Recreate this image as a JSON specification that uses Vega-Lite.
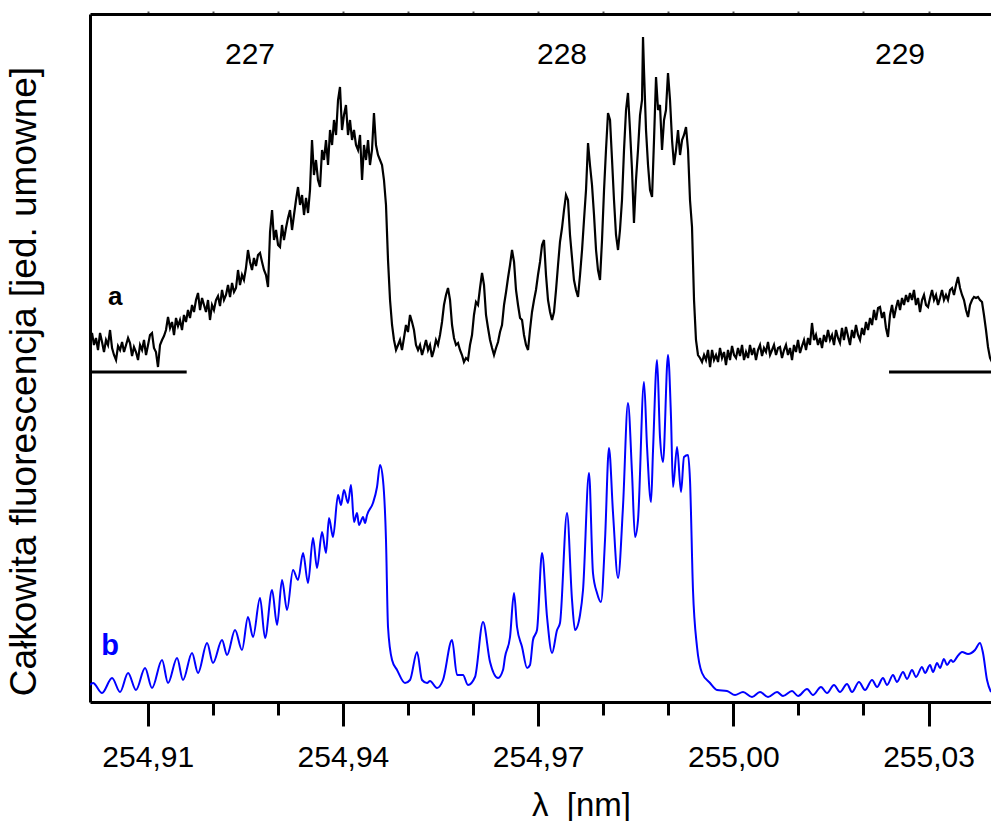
{
"$schema":"https://vega.github.io/schema/vega-lite/v6.json",
"width":901,"height":688,
"autosize":{"type":"none"},
"padding":{"left":90,"top":14,"right":0,"bottom":119},
"background":"white",
"config":{"view":{"stroke":null},"font":"Liberation Sans","text":{"font":"Liberation Sans"}},
"datasets":{
"a":[{"x":254.90113,"y":362},{"x":254.90144,"y":369},{"x":254.90174,"y":357},{"x":254.90205,"y":364},{"x":254.90236,"y":352},{"x":254.90267,"y":369},{"x":254.90298,"y":360},{"x":254.90328,"y":350},{"x":254.90359,"y":362},{"x":254.9039,"y":357},{"x":254.90421,"y":372},{"x":254.90452,"y":354},{"x":254.90482,"y":347},{"x":254.90513,"y":342},{"x":254.90544,"y":356},{"x":254.90575,"y":352},{"x":254.90606,"y":360},{"x":254.90636,"y":350},{"x":254.90667,"y":357},{"x":254.90698,"y":364},{"x":254.90728,"y":359},{"x":254.90759,"y":346},{"x":254.90789,"y":355},{"x":254.9082,"y":350},{"x":254.90851,"y":342},{"x":254.90882,"y":357},{"x":254.90913,"y":352},{"x":254.90943,"y":362},{"x":254.90974,"y":347},{"x":254.91005,"y":357},{"x":254.91035,"y":367},{"x":254.91066,"y":369},{"x":254.91096,"y":354},{"x":254.91127,"y":350},{"x":254.91158,"y":335},{"x":254.91189,"y":357},{"x":254.9122,"y":362},{"x":254.9125,"y":366},{"x":254.91281,"y":372},{"x":254.91312,"y":385},{"x":254.91343,"y":374},{"x":254.91374,"y":380},{"x":254.91404,"y":367},{"x":254.91435,"y":384},{"x":254.91466,"y":376},{"x":254.91496,"y":382},{"x":254.91527,"y":372},{"x":254.91557,"y":387},{"x":254.91588,"y":380},{"x":254.91619,"y":392},{"x":254.9165,"y":384},{"x":254.91681,"y":397},{"x":254.91711,"y":390},{"x":254.91742,"y":402},{"x":254.91773,"y":409},{"x":254.91804,"y":392},{"x":254.91835,"y":404},{"x":254.91865,"y":397},{"x":254.91896,"y":390},{"x":254.91927,"y":402},{"x":254.91957,"y":382},{"x":254.91988,"y":397},{"x":254.92018,"y":392},{"x":254.92049,"y":402},{"x":254.9208,"y":406},{"x":254.92111,"y":396},{"x":254.92142,"y":412},{"x":254.92172,"y":402},{"x":254.92203,"y":407},{"x":254.92234,"y":417},{"x":254.92265,"y":405},{"x":254.92296,"y":419},{"x":254.92326,"y":410},{"x":254.92357,"y":414},{"x":254.92388,"y":432},{"x":254.92418,"y":417},{"x":254.92449,"y":427},{"x":254.92479,"y":422},{"x":254.9251,"y":434},{"x":254.92541,"y":452},{"x":254.92572,"y":440},{"x":254.92603,"y":432},{"x":254.92633,"y":444},{"x":254.92664,"y":436},{"x":254.92695,"y":447},{"x":254.92726,"y":449},{"x":254.92757,"y":440},{"x":254.92787,"y":432},{"x":254.92818,"y":427},{"x":254.92849,"y":415},{"x":254.9288,"y":470},{"x":254.92911,"y":492},{"x":254.92941,"y":462},{"x":254.92972,"y":472},{"x":254.93003,"y":457},{"x":254.93033,"y":455},{"x":254.93064,"y":477},{"x":254.93094,"y":462},{"x":254.93125,"y":474},{"x":254.93156,"y":484},{"x":254.93187,"y":492},{"x":254.93218,"y":472},{"x":254.93248,"y":487},{"x":254.93279,"y":502},{"x":254.9331,"y":515},{"x":254.93341,"y":497},{"x":254.93372,"y":507},{"x":254.93402,"y":487},{"x":254.93433,"y":504},{"x":254.93464,"y":489},{"x":254.93494,"y":512},{"x":254.93525,"y":562},{"x":254.93555,"y":527},{"x":254.93586,"y":542},{"x":254.93617,"y":522},{"x":254.93648,"y":515},{"x":254.93679,"y":552},{"x":254.93709,"y":542},{"x":254.9374,"y":562},{"x":254.93771,"y":537},{"x":254.93802,"y":572},{"x":254.93833,"y":557},{"x":254.93863,"y":582},{"x":254.93894,"y":567},{"x":254.93925,"y":602},{"x":254.93955,"y":615},{"x":254.93986,"y":572},{"x":254.94016,"y":587},{"x":254.94047,"y":597},{"x":254.94078,"y":567},{"x":254.94109,"y":582},{"x":254.9414,"y":562},{"x":254.9417,"y":572},{"x":254.94201,"y":557},{"x":254.94232,"y":552},{"x":254.94263,"y":567},{"x":254.94294,"y":522},{"x":254.94324,"y":557},{"x":254.94355,"y":542},{"x":254.94386,"y":562},{"x":254.94416,"y":537},{"x":254.94447,"y":552},{"x":254.94477,"y":589},{"x":254.94508,"y":557},{"x":254.94539,"y":547},{"x":254.9457,"y":542},{"x":254.94601,"y":537},{"x":254.94631,"y":522},{"x":254.94662,"y":497},{"x":254.94693,"y":442},{"x":254.94724,"y":402},{"x":254.94755,"y":377},{"x":254.94785,"y":362},{"x":254.94816,"y":352},{"x":254.94847,"y":357},{"x":254.94877,"y":362},{"x":254.94908,"y":352},{"x":254.94938,"y":364},{"x":254.94969,"y":377},{"x":254.95,"y":370},{"x":254.95031,"y":387},{"x":254.95062,"y":380},{"x":254.95092,"y":372},{"x":254.95123,"y":357},{"x":254.95154,"y":352},{"x":254.95185,"y":357},{"x":254.95216,"y":347},{"x":254.95246,"y":354},{"x":254.95277,"y":362},{"x":254.95308,"y":352},{"x":254.95338,"y":357},{"x":254.95369,"y":345},{"x":254.95399,"y":352},{"x":254.9543,"y":362},{"x":254.95461,"y":357},{"x":254.95492,"y":367},{"x":254.95523,"y":380},{"x":254.95553,"y":397},{"x":254.95584,"y":407},{"x":254.95615,"y":414},{"x":254.95646,"y":402},{"x":254.95677,"y":377},{"x":254.95707,"y":364},{"x":254.95738,"y":357},{"x":254.95769,"y":359},{"x":254.95799,"y":352},{"x":254.9583,"y":347},{"x":254.9586,"y":340},{"x":254.95891,"y":344},{"x":254.95922,"y":342},{"x":254.95953,"y":357},{"x":254.95984,"y":367},{"x":254.96014,"y":387},{"x":254.96045,"y":400},{"x":254.96076,"y":397},{"x":254.96107,"y":414},{"x":254.96138,"y":429},{"x":254.96168,"y":417},{"x":254.96199,"y":387},{"x":254.9623,"y":374},{"x":254.96261,"y":362},{"x":254.96292,"y":354},{"x":254.96322,"y":347},{"x":254.96353,"y":354},{"x":254.96384,"y":360},{"x":254.96414,"y":370},{"x":254.96445,"y":377},{"x":254.96476,"y":397},{"x":254.96507,"y":410},{"x":254.96537,"y":424},{"x":254.96568,"y":437},{"x":254.96599,"y":452},{"x":254.9663,"y":440},{"x":254.9666,"y":412},{"x":254.96691,"y":397},{"x":254.96722,"y":384},{"x":254.96753,"y":382},{"x":254.96783,"y":367},{"x":254.96814,"y":357},{"x":254.96845,"y":352},{"x":254.96875,"y":372},{"x":254.96906,"y":390},{"x":254.96937,"y":402},{"x":254.96967,"y":412},{"x":254.96998,"y":427},{"x":254.97029,"y":440},{"x":254.9706,"y":457},{"x":254.9709,"y":462},{"x":254.97121,"y":427},{"x":254.97152,"y":402},{"x":254.97183,"y":390},{"x":254.97214,"y":382},{"x":254.97244,"y":390},{"x":254.97275,"y":412},{"x":254.97306,"y":437},{"x":254.97336,"y":460},{"x":254.97367,"y":474},{"x":254.97398,"y":492},{"x":254.97428,"y":507},{"x":254.97459,"y":502},{"x":254.9749,"y":467},{"x":254.97521,"y":444},{"x":254.97551,"y":422},{"x":254.97582,"y":412},{"x":254.97613,"y":405},{"x":254.97644,"y":427},{"x":254.97675,"y":452},{"x":254.97705,"y":482},{"x":254.97736,"y":512},{"x":254.97767,"y":559},{"x":254.97797,"y":537},{"x":254.97828,"y":517},{"x":254.97859,"y":487},{"x":254.9789,"y":452},{"x":254.9792,"y":432},{"x":254.97951,"y":422},{"x":254.97982,"y":462},{"x":254.98013,"y":512},{"x":254.98043,"y":552},{"x":254.98074,"y":589},{"x":254.98105,"y":582},{"x":254.98136,"y":542},{"x":254.98166,"y":502},{"x":254.98197,"y":467},{"x":254.98228,"y":452},{"x":254.98258,"y":472},{"x":254.98289,"y":502},{"x":254.9832,"y":552},{"x":254.98351,"y":592},{"x":254.98381,"y":609},{"x":254.98412,"y":572},{"x":254.98443,"y":532},{"x":254.98473,"y":479},{"x":254.98504,"y":522},{"x":254.98535,"y":552},{"x":254.98566,"y":587},{"x":254.98597,"y":602},{"x":254.98612,"y":665},{"x":254.98627,"y":632},{"x":254.98658,"y":572},{"x":254.98689,"y":537},{"x":254.9872,"y":512},{"x":254.98751,"y":505},{"x":254.98781,"y":562},{"x":254.98812,"y":625},{"x":254.98843,"y":592},{"x":254.98873,"y":597},{"x":254.98904,"y":552},{"x":254.98935,"y":582},{"x":254.98965,"y":592},{"x":254.98996,"y":629},{"x":254.99027,"y":602},{"x":254.99058,"y":562},{"x":254.99088,"y":537},{"x":254.99119,"y":552},{"x":254.9915,"y":572},{"x":254.99181,"y":547},{"x":254.99212,"y":562},{"x":254.99242,"y":567},{"x":254.99273,"y":575},{"x":254.99304,"y":552},{"x":254.99334,"y":502},{"x":254.99365,"y":475},{"x":254.99396,"y":402},{"x":254.99426,"y":362},{"x":254.99457,"y":347},{"x":254.99488,"y":344},{"x":254.99519,"y":340},{"x":254.9955,"y":347},{"x":254.9958,"y":342},{"x":254.99611,"y":352},{"x":254.99642,"y":335},{"x":254.99673,"y":352},{"x":254.99703,"y":342},{"x":254.99734,"y":347},{"x":254.99765,"y":340},{"x":254.99795,"y":354},{"x":254.99826,"y":344},{"x":254.99857,"y":350},{"x":254.99887,"y":337},{"x":254.99918,"y":352},{"x":254.99949,"y":342},{"x":254.9998,"y":356},{"x":255.00011,"y":347},{"x":255.00041,"y":344},{"x":255.00072,"y":354},{"x":255.00103,"y":346},{"x":255.00134,"y":357},{"x":255.00164,"y":342},{"x":255.00195,"y":350},{"x":255.00226,"y":344},{"x":255.00256,"y":357},{"x":255.00287,"y":347},{"x":255.00318,"y":354},{"x":255.00348,"y":342},{"x":255.00379,"y":352},{"x":255.0041,"y":357},{"x":255.00441,"y":346},{"x":255.00471,"y":354},{"x":255.00502,"y":350},{"x":255.00533,"y":360},{"x":255.00564,"y":347},{"x":255.00595,"y":352},{"x":255.00625,"y":357},{"x":255.00656,"y":347},{"x":255.00687,"y":354},{"x":255.00717,"y":355},{"x":255.00748,"y":344},{"x":255.00779,"y":352},{"x":255.00809,"y":357},{"x":255.0084,"y":347},{"x":255.00871,"y":354},{"x":255.00902,"y":342},{"x":255.00932,"y":357},{"x":255.00963,"y":350},{"x":255.00994,"y":362},{"x":255.01025,"y":349},{"x":255.01056,"y":356},{"x":255.01086,"y":362},{"x":255.01117,"y":352},{"x":255.01148,"y":364},{"x":255.01178,"y":357},{"x":255.01209,"y":379},{"x":255.0124,"y":362},{"x":255.0127,"y":367},{"x":255.01301,"y":357},{"x":255.01332,"y":364},{"x":255.01363,"y":354},{"x":255.01393,"y":367},{"x":255.01424,"y":360},{"x":255.01455,"y":372},{"x":255.01486,"y":362},{"x":255.01517,"y":367},{"x":255.01547,"y":357},{"x":255.01578,"y":372},{"x":255.01609,"y":364},{"x":255.01639,"y":359},{"x":255.0167,"y":374},{"x":255.017,"y":362},{"x":255.01731,"y":375},{"x":255.01762,"y":366},{"x":255.01793,"y":357},{"x":255.01824,"y":372},{"x":255.01854,"y":364},{"x":255.01885,"y":377},{"x":255.01916,"y":367},{"x":255.01947,"y":362},{"x":255.01978,"y":374},{"x":255.02008,"y":367},{"x":255.02039,"y":380},{"x":255.0207,"y":372},{"x":255.02101,"y":384},{"x":255.02132,"y":377},{"x":255.02162,"y":392},{"x":255.02193,"y":382},{"x":255.02224,"y":394},{"x":255.02254,"y":395},{"x":255.02285,"y":384},{"x":255.02315,"y":390},{"x":255.02346,"y":374},{"x":255.02377,"y":365},{"x":255.02408,"y":387},{"x":255.02439,"y":397},{"x":255.02469,"y":384},{"x":255.025,"y":394},{"x":255.02531,"y":402},{"x":255.02562,"y":392},{"x":255.02593,"y":404},{"x":255.02623,"y":397},{"x":255.02654,"y":407},{"x":255.02685,"y":400},{"x":255.02715,"y":409},{"x":255.02746,"y":402},{"x":255.02776,"y":412},{"x":255.02807,"y":397},{"x":255.02838,"y":404},{"x":255.02869,"y":390},{"x":255.029,"y":402},{"x":255.0293,"y":407},{"x":255.02961,"y":397},{"x":255.02992,"y":395},{"x":255.03023,"y":404},{"x":255.03054,"y":412},{"x":255.03084,"y":402},{"x":255.03115,"y":407},{"x":255.03146,"y":397},{"x":255.03176,"y":404},{"x":255.03207,"y":412},{"x":255.03237,"y":402},{"x":255.03268,"y":407},{"x":255.03299,"y":402},{"x":255.0333,"y":412},{"x":255.03361,"y":414},{"x":255.03391,"y":407},{"x":255.03422,"y":417},{"x":255.03453,"y":425},{"x":255.03484,"y":414},{"x":255.03515,"y":407},{"x":255.03545,"y":402},{"x":255.03576,"y":392},{"x":255.03607,"y":385},{"x":255.03637,"y":397},{"x":255.03668,"y":402},{"x":255.03699,"y":405},{"x":255.0373,"y":404},{"x":255.0376,"y":405},{"x":255.03791,"y":402},{"x":255.03822,"y":400},{"x":255.03852,"y":387},{"x":255.03883,"y":372},{"x":255.03914,"y":355},{"x":255.03945,"y":344},{"x":255.03975,"y":340}],
"b":[{"x":254.90113,"y":17},{"x":254.90159,"y":19},{"x":254.90298,"y":9},{"x":254.90452,"y":24},{"x":254.90575,"y":10},{"x":254.90698,"y":29},{"x":254.9082,"y":12},{"x":254.90959,"y":34},{"x":254.91066,"y":14},{"x":254.9122,"y":42},{"x":254.91312,"y":19},{"x":254.91451,"y":44},{"x":254.91542,"y":22},{"x":254.91681,"y":49},{"x":254.91773,"y":29},{"x":254.91912,"y":59},{"x":254.92003,"y":39},{"x":254.92142,"y":62},{"x":254.92219,"y":47},{"x":254.92342,"y":72},{"x":254.92449,"y":52},{"x":254.92541,"y":85},{"x":254.92618,"y":65},{"x":254.92726,"y":104},{"x":254.92803,"y":64},{"x":254.92911,"y":112},{"x":254.92988,"y":77},{"x":254.93064,"y":122},{"x":254.93141,"y":92},{"x":254.93233,"y":132},{"x":254.9331,"y":122},{"x":254.93387,"y":149},{"x":254.93464,"y":119},{"x":254.9354,"y":164},{"x":254.93602,"y":134},{"x":254.93679,"y":170},{"x":254.9374,"y":149},{"x":254.93786,"y":184},{"x":254.93848,"y":165},{"x":254.93925,"y":207},{"x":254.9397,"y":197},{"x":254.94016,"y":212},{"x":254.94078,"y":199},{"x":254.94124,"y":217},{"x":254.9417,"y":180},{"x":254.94217,"y":189},{"x":254.94247,"y":177},{"x":254.94309,"y":185},{"x":254.9434,"y":179},{"x":254.94371,"y":187},{"x":254.94462,"y":199},{"x":254.94524,"y":215},{"x":254.9457,"y":237},{"x":254.94616,"y":222},{"x":254.94662,"y":162},{"x":254.94693,"y":75},{"x":254.94755,"y":42},{"x":254.94832,"y":32},{"x":254.94954,"y":19},{"x":254.95031,"y":22},{"x":254.95139,"y":50},{"x":254.95216,"y":22},{"x":254.95293,"y":19},{"x":254.95338,"y":21},{"x":254.95446,"y":14},{"x":254.95538,"y":22},{"x":254.95677,"y":62},{"x":254.95754,"y":27},{"x":254.95845,"y":27},{"x":254.95922,"y":17},{"x":254.9603,"y":25},{"x":254.96153,"y":80},{"x":254.96261,"y":40},{"x":254.96384,"y":24},{"x":254.9646,"y":32},{"x":254.96491,"y":45},{"x":254.96568,"y":65},{"x":254.96629,"y":109},{"x":254.96676,"y":75},{"x":254.96753,"y":55},{"x":254.9683,"y":34},{"x":254.96875,"y":37},{"x":254.96921,"y":62},{"x":254.96983,"y":72},{"x":254.9706,"y":149},{"x":254.97137,"y":85},{"x":254.97214,"y":49},{"x":254.97291,"y":72},{"x":254.97336,"y":79},{"x":254.97444,"y":189},{"x":254.97521,"y":102},{"x":254.97567,"y":72},{"x":254.97644,"y":87},{"x":254.9769,"y":112},{"x":254.97782,"y":229},{"x":254.97843,"y":129},{"x":254.97905,"y":109},{"x":254.97966,"y":100},{"x":254.98028,"y":162},{"x":254.98089,"y":254},{"x":254.98151,"y":189},{"x":254.98228,"y":124},{"x":254.98304,"y":195},{"x":254.98381,"y":299},{"x":254.98443,"y":229},{"x":254.98489,"y":165},{"x":254.98535,"y":182},{"x":254.98627,"y":320},{"x":254.98674,"y":255},{"x":254.98735,"y":200},{"x":254.98766,"y":252},{"x":254.98828,"y":342},{"x":254.98873,"y":265},{"x":254.98919,"y":240},{"x":254.98996,"y":347},{"x":254.99042,"y":285},{"x":254.99073,"y":215},{"x":254.99135,"y":255},{"x":254.99196,"y":210},{"x":254.99242,"y":245},{"x":254.99304,"y":247},{"x":254.99334,"y":222},{"x":254.9938,"y":112},{"x":254.99442,"y":55},{"x":254.99519,"y":29},{"x":254.99642,"y":19},{"x":254.9975,"y":12},{"x":254.99903,"y":11},{"x":255.00026,"y":7},{"x":255.00149,"y":10},{"x":255.00287,"y":5},{"x":255.0041,"y":10},{"x":255.00533,"y":5},{"x":255.00672,"y":10},{"x":255.00763,"y":6},{"x":255.00902,"y":11},{"x":255.00994,"y":6},{"x":255.01133,"y":13},{"x":255.01224,"y":7},{"x":255.01347,"y":15},{"x":255.0144,"y":9},{"x":255.01547,"y":17},{"x":255.01639,"y":10},{"x":255.01747,"y":18},{"x":255.01824,"y":10},{"x":255.01931,"y":20},{"x":255.02024,"y":12},{"x":255.02132,"y":22},{"x":255.02209,"y":15},{"x":255.023,"y":24},{"x":255.02362,"y":17},{"x":255.02454,"y":27},{"x":255.02515,"y":20},{"x":255.02608,"y":30},{"x":255.0267,"y":23},{"x":255.02746,"y":32},{"x":255.02807,"y":25},{"x":255.029,"y":35},{"x":255.02946,"y":29},{"x":255.03023,"y":37},{"x":255.03069,"y":30},{"x":255.03131,"y":39},{"x":255.03176,"y":34},{"x":255.03237,"y":43},{"x":255.03284,"y":37},{"x":255.03345,"y":42},{"x":255.03376,"y":40},{"x":255.03438,"y":45},{"x":255.03515,"y":50},{"x":255.03607,"y":48},{"x":255.03714,"y":52},{"x":255.03791,"y":59},{"x":255.03837,"y":49},{"x":255.03899,"y":22},{"x":255.0396,"y":10}],
"base":[{"x1":254.90113,"x2":254.91599,"y":330},{"x1":255.02393,"x2":255.0396,"y":330}],
"nums":[{"x":254.92572,"y":638,"t":"227"},{"x":254.97367,"y":638,"t":"228"},{"x":255.02562,"y":638,"t":"229"}],
"la":[{"x":254.9050,"y":397,"t":"a"}],
"lb":[{"x":254.90421,"y":47,"t":"b"}]
},
"layer":[
{"data":{"name":"a"},"mark":{"type":"line","color":"#000000","strokeWidth":2.2,"clip":true},
"encoding":{
"x":{"field":"x","type":"quantitative","scale":{"domain":[254.90113,255.0396],"nice":false,"zero":false},
"axis":{"orient":"bottom","values":[254.91,254.94,254.97,255.0,255.03],"tickSize":24,"tickWidth":3,"tickColor":"black","domain":true,"domainColor":"black","domainWidth":3,"grid":false,"labelFont":"Liberation Sans","labelFontSize":30,"labelColor":"black","labelPadding":16,"labelFlush":false,"labelOverlap":false,"labelExpr":"replace(format(datum.value, '.2f'), '.', ',')","title":"λ\u00a0\u00a0[nm]","titleFont":"Liberation Sans","titleFontSize":33,"titleFontWeight":"normal","titleColor":"black","titleX":491,"titleY":113,"titleAlign":"center","titleBaseline":"alphabetic"}},
"y":{"field":"y","type":"quantitative","scale":{"domain":[0,688],"nice":false,"zero":false},
"axis":{"orient":"left","domain":true,"domainColor":"black","domainWidth":3,"ticks":false,"labels":false,"grid":false,"title":"Całkowita fluorescencja [jed. umowne]","titleFont":"Liberation Sans","titleFontSize":37,"titleFontWeight":"normal","titleColor":"black","titleX":-66,"titleY":367,"titleAngle":270,"titleAlign":"center","titleBaseline":"middle"}}}},
{"data":{"name":"b"},"mark":{"type":"line","color":"#0000ff","strokeWidth":2,"interpolate":"monotone","clip":true},
"encoding":{
"x":{"field":"x","type":"quantitative","scale":{"domain":[254.90113,255.0396],"nice":false,"zero":false},
"axis":{"orient":"bottom","values":[254.92,254.93,254.95,254.96,254.98,254.99,255.01,255.02],"tickSize":13,"tickWidth":3,"tickColor":"black","domain":false,"labels":false,"grid":false,"title":null}},
"y":{"field":"y","type":"quantitative","scale":{"domain":[0,688],"nice":false,"zero":false},"axis":null}}},
{"data":{"name":"base"},"mark":{"type":"rule","color":"#000000","strokeWidth":3,"clip":true},
"encoding":{
"x":{"field":"x1","type":"quantitative","scale":{"domain":[254.90113,255.0396],"nice":false,"zero":false},
"axis":{"orient":"top","values":[254.91,254.92,254.93,254.94,254.95,254.96,254.97,254.98,254.99,255.0,255.01,255.02,255.03],"tickSize":3,"tickWidth":2,"tickColor":"#555555","domain":true,"domainColor":"black","domainWidth":3,"labels":false,"grid":false,"title":null}},
"x2":{"field":"x2"},
"y":{"field":"y","type":"quantitative","scale":{"domain":[0,688],"nice":false,"zero":false},"axis":null}}},
{"data":{"name":"nums"},"mark":{"type":"text","fontSize":30,"font":"Liberation Sans","color":"#000000","align":"center","baseline":"alphabetic"},
"encoding":{
"x":{"field":"x","type":"quantitative","scale":{"domain":[254.90113,255.0396],"nice":false,"zero":false},"axis":null},
"y":{"field":"y","type":"quantitative","scale":{"domain":[0,688],"nice":false,"zero":false},"axis":null},
"text":{"field":"t"}}},
{"data":{"name":"la"},"mark":{"type":"text","fontSize":26,"fontWeight":"bold","font":"Liberation Sans","color":"#000000","align":"center","baseline":"alphabetic"},
"encoding":{
"x":{"field":"x","type":"quantitative","scale":{"domain":[254.90113,255.0396],"nice":false,"zero":false},"axis":null},
"y":{"field":"y","type":"quantitative","scale":{"domain":[0,688],"nice":false,"zero":false},"axis":null},
"text":{"field":"t"}}},
{"data":{"name":"lb"},"mark":{"type":"text","fontSize":29,"fontWeight":"bold","font":"Liberation Sans","color":"#0000ff","align":"center","baseline":"alphabetic"},
"encoding":{
"x":{"field":"x","type":"quantitative","scale":{"domain":[254.90113,255.0396],"nice":false,"zero":false},"axis":null},
"y":{"field":"y","type":"quantitative","scale":{"domain":[0,688],"nice":false,"zero":false},"axis":null},
"text":{"field":"t"}}}
],
"resolve":{"axis":{"x":"independent","y":"independent"}}
}
